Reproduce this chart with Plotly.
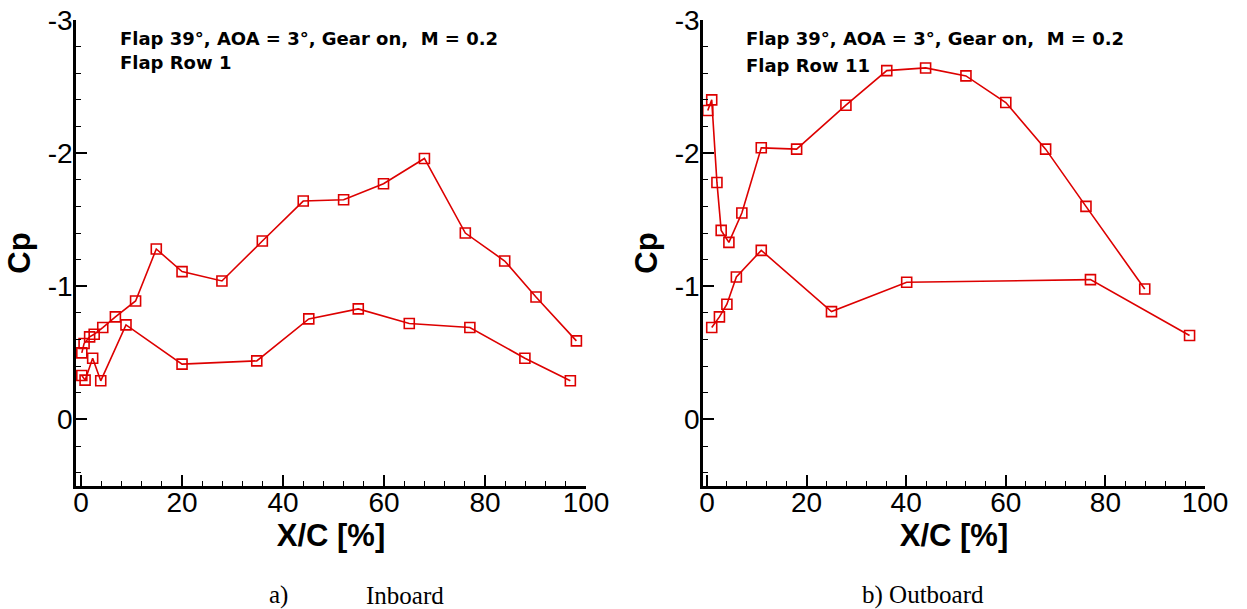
import plotly.graph_objects as go

# ---- Data: Flap Row 1 (Inboard) ----
in_upper_x = [0.15, 0.6, 1.7, 2.6, 4.3, 6.8, 10.8, 14.9, 20.0, 27.9, 35.9, 44.0, 52.0, 59.9, 68.0, 76.1, 83.9, 90.1, 98.1]
in_upper_cp = [-0.50, -0.57, -0.62, -0.64, -0.69, -0.77, -0.89, -1.28, -1.11, -1.04, -1.34, -1.64, -1.65, -1.77, -1.96, -1.40, -1.19, -0.92, -0.59]
in_lower_x = [0.15, 0.8, 2.3, 3.9, 8.9, 20.0, 34.8, 45.1, 54.9, 65.0, 77.0, 87.9, 96.9]
in_lower_cp = [-0.33, -0.295, -0.46, -0.29, -0.71, -0.415, -0.44, -0.755, -0.83, -0.72, -0.69, -0.46, -0.29]

# ---- Data: Flap Row 11 (Outboard) ----
out_upper_x = [0.16, 0.95, 2.0, 2.85, 4.4, 7.0, 10.9, 18.0, 27.9, 36.1, 43.9, 52.0, 60.0, 68.0, 76.1, 87.9]
out_upper_cp = [-2.32, -2.40, -1.78, -1.42, -1.33, -1.55, -2.04, -2.03, -2.36, -2.62, -2.64, -2.58, -2.38, -2.03, -1.60, -0.98]
out_lower_x = [0.95, 2.5, 4.0, 5.9, 10.9, 25.0, 40.1, 77.0, 96.9]
out_lower_cp = [-0.69, -0.77, -0.865, -1.07, -1.27, -0.81, -1.03, -1.05, -0.63]

x_ticks = [0, 20, 40, 60, 80, 100]
y_ticks = [-3, -2, -1, 0]

annot_line1 = "Flap 39°, AOA = 3°, Gear on,  M = 0.2"
annot_left = "Flap Row 1"
annot_right = "Flap Row 11"

RED = "#dd0000"
W, H = 1247, 609

def px_x(p):
    return p / W

def px_y(p):
    return 1 - p / H

fig = go.Figure()

def add_series(x, y, xa, ya):
    fig.add_trace(go.Scatter(
        x=x, y=y, xaxis=xa, yaxis=ya, mode="lines+markers",
        line=dict(color=RED, width=1.6),
        marker=dict(symbol="square-open", size=10, color=RED, line=dict(width=1.6, color=RED)),
        showlegend=False, cliponaxis=False))

add_series(in_upper_x, in_upper_cp, "x", "y")
add_series(in_lower_x, in_lower_cp, "x", "y")
add_series(out_upper_x, out_upper_cp, "x2", "y2")
add_series(out_lower_x, out_lower_cp, "x2", "y2")

ydom = [px_y(486), px_y(20)]

tickfont = dict(family="Liberation Sans, Arial, sans-serif", size=28, color="black")
titlefont = dict(family="Liberation Sans, Arial, sans-serif", size=31, color="black", weight="bold")

def xaxis_cfg(dom, lo):
    return dict(domain=dom, range=[lo, 100], tickvals=x_ticks, ticktext=[str(v) for v in x_ticks],
                ticks="inside", ticklen=11, tickwidth=2, tickcolor="black", automargin=False,
                ticklabeloverflow="allow", ticklabelstandoff=-10,
                minor=dict(dtick=4, tick0=0, ticks="inside", ticklen=5, tickwidth=1, tickcolor="black"),
                showline=True, linewidth=2.5, linecolor="black", mirror=False,
                showgrid=False, zeroline=False, tickfont=tickfont,
                title=dict(text="<b>X/C [%]</b>", font=titlefont, standoff=0))

def yaxis_cfg(anchor):
    return dict(domain=ydom, range=[0.5, -3], tickvals=y_ticks, ticktext=[str(v) for v in y_ticks],
                anchor=anchor, automargin=False,
                ticklabeloverflow="allow", ticklabelstandoff=-5,
                ticks="inside", ticklen=11, tickwidth=2, tickcolor="black",
                minor=dict(dtick=0.2, tick0=0, ticks="inside", ticklen=5, tickwidth=1, tickcolor="black"),
                showline=True, linewidth=2.5, linecolor="black", mirror=False,
                showgrid=False, zeroline=False, tickfont=tickfont,
                title=dict(text="<b>Cp</b>", font=titlefont, standoff=8))

fig.update_layout(
    width=W, height=H,
    margin=dict(l=0, r=0, t=0, b=0, autoexpand=False),
    paper_bgcolor="white", plot_bgcolor="white",
    xaxis=dict(**xaxis_cfg([px_x(76), px_x(586)], -1), anchor="y"),
    yaxis=yaxis_cfg("x"),
    xaxis2=dict(**xaxis_cfg([px_x(703), px_x(1205)], -0.8), anchor="y2"),
    yaxis2=yaxis_cfg("x2"),
)

afont = dict(family="DejaVu Sans, Arial, sans-serif", size=18, color="black")
cfont = dict(family="Liberation Serif, Times New Roman, serif", size=25, color="black")

anns = [
    (118, 38, "<b>" + annot_line1 + "</b>", afont),
    (118, 63, "<b>" + annot_left + "</b>", afont),
    (744, 38, "<b>" + annot_line1 + "</b>", afont),
    (744, 66, "<b>" + annot_right + "</b>", afont),
    (267, 595, "a)", cfont),
    (364, 595, "Inboard", cfont),
    (860, 595, "b) Outboard", cfont),
]
for px, py, txt, f in anns:
    fig.add_annotation(x=px_x(px), y=px_y(py), xref="paper", yref="paper", text=txt,
                       showarrow=False, xanchor="left", yanchor="middle", font=f)

fig.write_html("out.html", config={"displayModeBar": False},
               post_script="document.body.style.margin='0';")
